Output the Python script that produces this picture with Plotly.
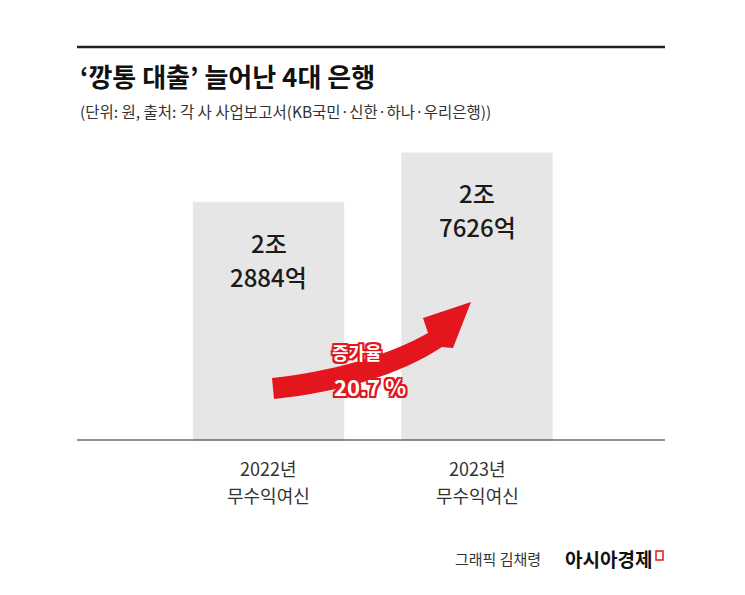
import plotly.graph_objects as go

categories = [("2022년", "무수익여신"), ("2023년", "무수익여신")]
values = [22884, 27626]
value_labels = [("2조", "2884억"), ("2조", "7626억")]
growth_label = "증가율"
growth_value = "20.7 %"

W, H = 745, 595
OFF = 8
K = 22884 / 238.0
def Y(py): return (440 - py) * K

centers = [268.5, 477]
F = "Noto Sans CJK KR"
fig = go.Figure()
fig.add_bar(x=centers, y=values, width=151, marker_color="#e6e6e6", hoverinfo="skip")
for c, v, t in zip(centers, values, value_labels):
    for i, s in enumerate(t):
        fig.add_annotation(x=c, y=v, yshift=-(40 + 34 * i), text=s, showarrow=False, yanchor="middle",
                           font=dict(size=24, color="#1a1a1a", family=F, weight=500))
for c, t in zip(centers, categories):
    for i, s in enumerate(t):
        fig.add_annotation(x=c, y=Y(468 + 27 * i), text=s, showarrow=False, yanchor="middle",
                           font=dict(size=18, color="#333", family=F))

pts_up = [(272, 378), (330, 372), (390, 355), (428, 333)]
head = [(423, 318), (471, 302), (453, 348)]
pts_lo = [(442, 347), (400, 375), (340, 392), (274, 399)]
path = f"M {pts_up[0][0]},{Y(pts_up[0][1])} C {pts_up[1][0]},{Y(pts_up[1][1])} {pts_up[2][0]},{Y(pts_up[2][1])} {pts_up[3][0]},{Y(pts_up[3][1])}"
for p in head:
    path += f" L {p[0]},{Y(p[1])}"
path += f" L {pts_lo[0][0]},{Y(pts_lo[0][1])} C {pts_lo[1][0]},{Y(pts_lo[1][1])} {pts_lo[2][0]},{Y(pts_lo[2][1])} {pts_lo[3][0]},{Y(pts_lo[3][1])} Z"
fig.add_shape(type="path", path=path, fillcolor="#e3161e", line_width=0, xref="x", yref="y")

sh = "2px 0 0 #e3161e, -2px 0 0 #e3161e, 0 2px 0 #e3161e, 0 -2px 0 #e3161e, 2px 2px 0 #e3161e, -2px -2px 0 #e3161e, 2px -2px 0 #e3161e, -2px 2px 0 #e3161e"
fig.add_annotation(x=357, y=Y(352), text="<b>"+growth_label+"</b>", showarrow=False,
                   font=dict(size=18, color="white", family=F, shadow=sh))
fig.add_annotation(x=370, y=Y(386), text="<b>"+growth_value+"</b>", showarrow=False,
                   font=dict(size=22, color="white", family=F, shadow=sh))

fig.add_shape(type="line", x0=77, x1=665, y0=Y(47), y1=Y(47), line=dict(color="#222", width=2.5))
fig.add_shape(type="line", x0=77, x1=665, y0=Y(440), y1=Y(440), line=dict(color="#222", width=1.2))

fig.add_annotation(x=78, y=Y(75), text="<b>‘깡통 대출’ 늘어난 4대 은행</b>", showarrow=False, xanchor="left",
                   font=dict(size=26, color="#111", family=F))
fig.add_annotation(x=78, y=Y(111), text="(단위: 원, 출처: 각 사 사업보고서(KB국민·신한·하나·우리은행))", showarrow=False,
                   xanchor="left", font=dict(size=15.5, color="#333", family=F))
fig.add_annotation(x=543, y=Y(558), text="그래픽 김채령", showarrow=False, xanchor="right",
                   font=dict(size=15, color="#333", family=F))
fig.add_annotation(x=654, y=Y(558), text="<b>아시아경제</b>", showarrow=False, xanchor="right",
                   font=dict(size=19, color="#111", family=F))
fig.add_shape(type="rect", x0=656, x1=663, y0=Y(560), y1=Y(551), line=dict(color="#e3161e", width=1.5))

fig.update_layout(width=W, height=H, margin=dict(l=0, r=0, t=0, b=0), showlegend=False,
                  plot_bgcolor="white", paper_bgcolor="white",
                  xaxis=dict(range=[OFF, W + OFF], visible=False, fixedrange=True),
                  yaxis=dict(range=[Y(H + OFF), Y(OFF)], visible=False, fixedrange=True))
fig.write_html("out.html")
